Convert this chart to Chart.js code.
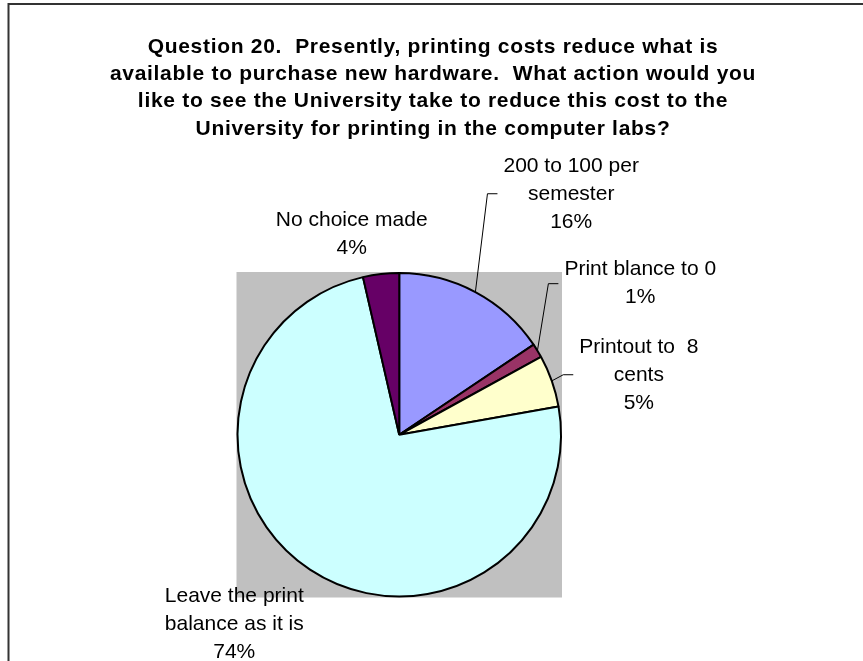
<!DOCTYPE html>
<html><head><meta charset="utf-8">
<script src="https://cdn.jsdelivr.net/npm/chart.js@4"></script>
<style>html,body{margin:0;padding:0;background:#fff;} canvas{display:block;}</style>
</head><body>
<canvas id="c" width="863" height="661"></canvas>
<script>
// ---- data ----
const titleLines = [
  "Question 20.  Presently, printing costs reduce what is",
  "available to purchase new hardware.  What action would you",
  "like to see the University take to reduce this cost to the",
  "University for printing in the computer labs?"
];
const categories = ["200 to 100 per semester", "Print blance to 0", "Printout to  8 cents", "Leave the print balance as it is", "No choice made"];
const values = [15.6, 1.4, 5.2, 74.2, 3.6];
const labelLines = [["200 to 100 per", "semester"], ["Print blance to 0"], ["Printout to  8", "cents"], ["Leave the print", "balance as it is"], ["No choice made"]];

// ---- styles ----
const sliceColors = ['#9999FF', '#993366', '#FFFFCC', '#CCFFFF', '#660066'];
const labelPlacement = [
  {x: 1.063, y: -1.490, leader: true},
  {x: 1.490, y: -0.934, leader: true},
  {x: 1.481, y: -0.371, leader: true},
  {x: -1.020, y: 1.172, leader: false},
  {x: -0.294, y: -1.240, leader: false}
];
const FONT = '"Liberation Sans", Arial, Helvetica, sans-serif';

const total = values.reduce((a, b) => a + b, 0);

const decor = {
  id: 'decor',
  beforeDraw(chart) {
    const ctx = chart.ctx;
    ctx.save();
    ctx.fillStyle = '#fff';
    ctx.fillRect(0, 0, chart.width, chart.height);
    ctx.strokeStyle = '#333';
    ctx.lineWidth = 2;
    ctx.beginPath();
    ctx.moveTo(8.5, chart.height);
    ctx.lineTo(8.5, 4);
    ctx.lineTo(chart.width, 4);
    ctx.stroke();
    ctx.restore();
  },
  beforeDatasetsDraw(chart) {
    const ctx = chart.ctx;
    const a = chart.getDatasetMeta(0).data[0];
    const R = a.outerRadius + 1;
    ctx.save();
    ctx.fillStyle = '#C0C0C0';
    ctx.fillRect(a.x - R, a.y - R, 2 * R, 2 * R);
    ctx.restore();
  },
  afterDraw(chart) {
    const ctx = chart.ctx;
    ctx.save();
    // title
    ctx.fillStyle = '#000';
    ctx.font = 'bold 21px ' + FONT;
    ctx.textAlign = 'center';
    ctx.textBaseline = 'middle';
    if ('letterSpacing' in ctx) ctx.letterSpacing = '0.7px';
    titleLines.forEach((t, i) => ctx.fillText(t, 433, 47 + i * 27.3));
    if ('letterSpacing' in ctx) ctx.letterSpacing = '0px';
    // labels
    ctx.font = '21px ' + FONT;
    const meta = chart.getDatasetMeta(0);
    meta.data.forEach((arc, i) => {
      const R = arc.outerRadius;
      const p = labelPlacement[i];
      const cx = arc.x + p.x * R, cy = arc.y + p.y * R;
      const lines = labelLines[i].concat([Math.round(values[i] / total * 100) + '%']);
      const lh = 28;
      const top = cy - lines.length * lh / 2;
      let maxW = 0;
      lines.forEach((t, j) => {
        ctx.fillText(t, cx, top + lh / 2 + j * lh);
        maxW = Math.max(maxW, ctx.measureText(t).width);
      });
      if (p.leader) {
        const mid = (arc.startAngle + arc.endAngle) / 2;
        const ex = arc.x + R * Math.cos(mid), ey = arc.y + R * Math.sin(mid);
        const ax = cx - maxW / 2 - 6;
        ctx.strokeStyle = '#000';
        ctx.lineWidth = 1;
        ctx.beginPath();
        ctx.moveTo(ax, cy);
        ctx.lineTo(ax - 10, cy);
        ctx.lineTo(ex, ey);
        ctx.stroke();
      }
    });
    ctx.restore();
  }
};

new Chart(document.getElementById('c'), {
  type: 'pie',
  data: {
    labels: categories,
    datasets: [{
      data: values,
      backgroundColor: sliceColors,
      borderColor: '#000',
      borderWidth: 2
    }]
  },
  options: {
    responsive: false,
    animation: false,
    layout: {padding: {left: 236.5, right: 301, top: 272, bottom: 63.5}},
    plugins: {legend: {display: false}, tooltip: {enabled: false}, title: {display: false}}
  },
  plugins: [decor]
});
</script>
</body></html>
